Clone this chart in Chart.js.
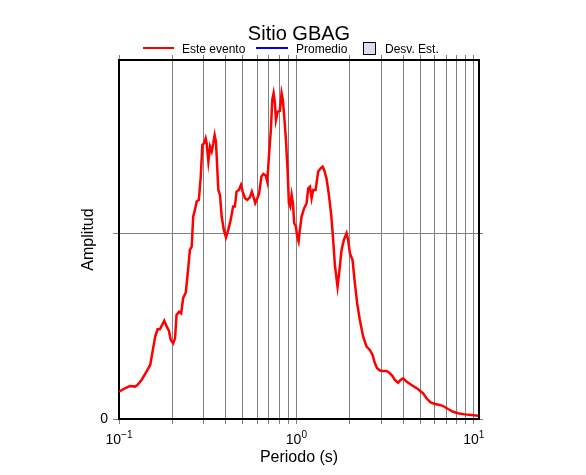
<!DOCTYPE html>
<html>
<head>
<meta charset="utf-8">
<title>Sitio GBAG</title>
<script src="https://cdn.jsdelivr.net/npm/chart.js@4/dist/chart.umd.min.js"></script>
<style>
  html, body { margin: 0; padding: 0; background: #fff; }
  canvas { display: block; }
</style>
</head>
<body>
<canvas id="chart" width="586" height="475"></canvas>
<script>
// periodo (s) y amplitud
const periods = [
  0.100, 0.108, 0.115, 0.123, 0.127, 0.134, 0.141, 0.150, 0.154, 0.160,
  0.165, 0.170, 0.180, 0.186, 0.191, 0.196, 0.202, 0.207, 0.211, 0.218,
  0.224, 0.230, 0.238, 0.245, 0.251, 0.257, 0.262, 0.268, 0.274, 0.282,
  0.289, 0.295, 0.302, 0.308, 0.312, 0.319, 0.326, 0.333, 0.340, 0.346,
  0.352, 0.363, 0.371, 0.379, 0.390, 0.401, 0.413, 0.426, 0.440, 0.450,
  0.460, 0.474, 0.487, 0.498, 0.513, 0.528, 0.547, 0.561, 0.576, 0.586,
  0.602, 0.617, 0.635, 0.652, 0.671, 0.685, 0.700, 0.718, 0.731, 0.744,
  0.757, 0.767, 0.784, 0.807, 0.825, 0.839, 0.854, 0.873, 0.892, 0.907,
  0.923, 0.940, 0.956, 0.972, 0.994, 1.010, 1.029, 1.046, 1.070, 1.106,
  1.142, 1.166, 1.192, 1.218, 1.243, 1.283, 1.327, 1.369, 1.405, 1.435,
  1.480, 1.525, 1.571, 1.612, 1.648, 1.706, 1.758, 1.797, 1.852, 1.918,
  1.958, 2.002, 2.073, 2.136, 2.201, 2.279, 2.379, 2.486, 2.595, 2.688,
  2.770, 2.853, 2.954, 3.083, 3.223, 3.364, 3.483, 3.589, 3.746, 3.864,
  3.997, 4.177, 4.457, 4.856, 5.182, 5.415, 5.704, 6.031, 6.435, 6.714,
  7.164, 7.644, 8.155, 8.898, 9.705, 10.57
];
const amplitudes = [
  0.148, 0.166, 0.178, 0.175, 0.184, 0.211, 0.247, 0.292, 0.355, 0.445,
  0.485, 0.485, 0.531, 0.499, 0.477, 0.427, 0.409, 0.436, 0.562, 0.580,
  0.571, 0.654, 0.684, 0.805, 0.914, 0.931, 1.094, 1.130, 1.175, 1.184,
  1.310, 1.481, 1.490, 1.517, 1.490, 1.391, 1.472, 1.445, 1.490, 1.535,
  1.499, 1.238, 1.211, 1.094, 1.022, 0.982, 1.022, 1.076, 1.148, 1.148,
  1.229, 1.238, 1.265, 1.229, 1.193, 1.184, 1.198, 1.229, 1.193, 1.166,
  1.193, 1.220, 1.310, 1.324, 1.316, 1.283, 1.418, 1.562, 1.724, 1.761,
  1.706, 1.616, 1.661, 1.665, 1.761, 1.724, 1.634, 1.508, 1.346, 1.166,
  1.148, 1.211, 1.166, 1.058, 1.040, 0.986, 0.959, 1.022, 1.094, 1.139,
  1.166, 1.247, 1.256, 1.193, 1.238, 1.238, 1.337, 1.355, 1.364, 1.346,
  1.297, 1.211, 1.103, 0.968, 0.832, 0.715, 0.823, 0.914, 0.968, 1.004,
  0.968, 0.896, 0.859, 0.734, 0.625, 0.535, 0.445, 0.391, 0.373, 0.346,
  0.301, 0.274, 0.262, 0.259, 0.259, 0.247, 0.232, 0.211, 0.196, 0.211,
  0.220, 0.202, 0.184, 0.161, 0.139, 0.112, 0.090, 0.081, 0.076, 0.070,
  0.054, 0.039, 0.031, 0.025, 0.022, 0.018
];

const periodTicks = [0.1, 0.2, 0.3, 0.4, 0.5, 0.6, 0.7, 0.8, 0.9,
  1, 2, 3, 4, 5, 6, 7, 8, 9, 10];
const decadeTicks = [0.1, 1, 10];
const decadeExponents = ["\u22121", "0", "1"];
const amplitudeTicks = [0, 1];
const amplitudeLabels = ["0", ""];
const seriesNames = ["Este evento", "Promedio", "Desv. Est."];
const seriesColors = ["#ff0000", "#0000ff", "#dcdcf5"];

const FONT = '"Liberation Sans", Arial, Helvetica, sans-serif';
const GRID = "#808080";

// titulo, leyenda y etiquetas 10^n
const decorations = {
  id: "decorations",
  afterDraw(chart) {
    const ctx = chart.ctx;
    ctx.save();
    ctx.fillStyle = "#000";
    ctx.textBaseline = "alphabetic";

    ctx.font = `20px ${FONT}`;
    ctx.textAlign = "center";
    ctx.fillText("Sitio GBAG", 299, 40);

    ctx.font = `12px ${FONT}`;
    ctx.textAlign = "left";
    ctx.lineWidth = 2;
    ctx.strokeStyle = seriesColors[0];
    ctx.beginPath(); ctx.moveTo(143, 48); ctx.lineTo(174, 48); ctx.stroke();
    ctx.fillText(seriesNames[0], 182, 53);
    ctx.strokeStyle = seriesColors[1];
    ctx.beginPath(); ctx.moveTo(256, 48); ctx.lineTo(288, 48); ctx.stroke();
    ctx.fillText(seriesNames[1], 296, 53);
    ctx.fillStyle = seriesColors[2];
    ctx.fillRect(363.5, 42.5, 12, 12);
    ctx.lineWidth = 1;
    ctx.strokeStyle = "#000";
    ctx.strokeRect(363.5, 42.5, 12, 12);
    ctx.fillStyle = "#000";
    ctx.fillText(seriesNames[2], 385, 53);

    const xs = chart.scales.x;
    decadeTicks.forEach((v, i) => {
      const px = xs.getPixelForValue(v);
      ctx.font = `14px ${FONT}`;
      const wb = ctx.measureText("10").width;
      ctx.font = `10px ${FONT}`;
      const we = ctx.measureText(decadeExponents[i]).width;
      const left = px - (wb + we) / 2;
      ctx.font = `14px ${FONT}`;
      ctx.fillText("10", left, 444);
      ctx.font = `10px ${FONT}`;
      ctx.fillText(decadeExponents[i], left + wb, 438);
    });
    ctx.restore();
  }
};

const logAxis = (position, extra) => Object.assign({
  type: "logarithmic",
  position: position,
  min: 0.1,
  max: 10.7,
  afterBuildTicks: (scale) => {
    scale.ticks = periodTicks.map(v => ({ value: v }));
  },
  ticks: { display: false },
  border: { display: true, color: "#000", width: 2 },
}, extra);

const linAxis = (position, extra) => Object.assign({
  type: "linear",
  position: position,
  min: 0,
  max: 1.94,
  afterBuildTicks: (scale) => {
    scale.ticks = amplitudeTicks.map(v => ({ value: v }));
  },
  border: { display: true, color: "#000", width: 2 },
}, extra);

new Chart(document.getElementById("chart"), {
  type: "line",
  data: {
    datasets: [{
      label: seriesNames[0],
      data: periods.map((p, i) => ({ x: p, y: amplitudes[i] })),
      borderColor: seriesColors[0],
      borderWidth: 2.5,
      pointRadius: 0,
      tension: 0,
      fill: false
    }]
  },
  options: {
    responsive: false,
    animation: false,
    devicePixelRatio: 1,
    layout: { padding: { left: 74, top: 54, right: 0, bottom: 0 } },
    plugins: {
      legend: { display: false },
      title: { display: false },
      tooltip: { enabled: false }
    },
    scales: {
      x: logAxis("bottom", {
        grid: { color: GRID, lineWidth: 1, tickLength: 5 },
        title: {
          display: true,
          text: "Periodo (s)",
          color: "#000",
          font: { family: FONT, size: 16 },
          padding: { top: 0, bottom: 8 }
        },
        afterFit: (scale) => { scale.height = 56; }
      }),
      x2: logAxis("top", {
        grid: { color: GRID, lineWidth: 1, tickLength: 5, drawOnChartArea: false },
        afterFit: (scale) => { scale.height = 6; }
      }),
      y: linAxis("left", {
        grid: { color: GRID, lineWidth: 1, tickLength: 6 },
        ticks: {
          color: "#000",
          font: { family: FONT, size: 14 },
          padding: 5,
          callback: (v) => amplitudeLabels[amplitudeTicks.indexOf(v)] ?? ""
        },
        title: {
          display: true,
          text: "Amplitud",
          color: "#000",
          font: { family: FONT, size: 16 },
          padding: { top: 5, bottom: 0 }
        },
        afterFit: (scale) => { scale.width = 45; }
      }),
      y2: linAxis("right", {
        grid: { color: GRID, lineWidth: 1, tickLength: 4, drawOnChartArea: false },
        ticks: { display: false },
        afterFit: (scale) => { scale.width = 107; }
      })
    }
  },
  plugins: [decorations]
});
</script>
</body>
</html>
